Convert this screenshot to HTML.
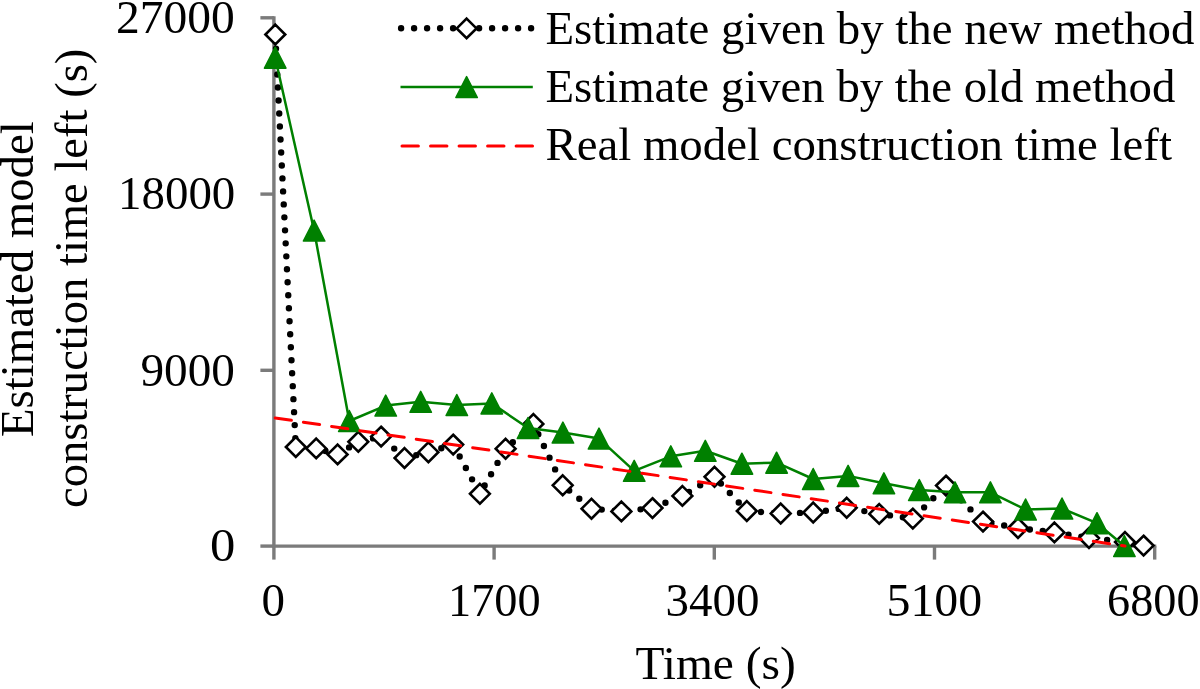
<!DOCTYPE html><html><head><meta charset="utf-8"><style>html,body{margin:0;padding:0;background:#fff;overflow:hidden}svg{display:block;will-change:transform}</style></head><body>
<svg width="1200" height="689" viewBox="0 0 1200 689">
<g stroke="#7b7b7b" stroke-width="3.4" fill="none">
<path d="M273.9,16.3V547.7M272.3,546.1H1156.3"/>
<path d="M260.4,17.8H273.9"/>
<path d="M260.4,194.1H273.9"/>
<path d="M260.4,370.3H273.9"/>
<path d="M260.4,546.1H273.9"/>
<path d="M273.9,546.1V559.6"/>
<path d="M494.1,546.1V559.6"/>
<path d="M714.3,546.1V559.6"/>
<path d="M934.5,546.1V559.6"/>
<path d="M1154.7,546.1V559.6"/>
</g>
<polyline points="275.3,34.5 295.8,447.0 316.2,448.4 337.6,454.4 358.3,441.8 381.1,436.6 404.5,458.0 428.4,452.2 453.2,444.6 479.9,493.8 505.6,448.7 533.4,423.9 562.7,485.3 591.5,508.7 621.4,511.4 652.5,508.1 682.4,495.9 714.5,476.8 746.8,511.0 780.7,513.5 813.2,512.5 846.7,507.8 879.2,513.9 912.8,518.6 946.0,485.6 983.0,521.6 1018.0,528.0 1054.4,532.4 1089.0,538.0 1125.0,542.0 1143.6,545.6" fill="none" stroke="#000" stroke-width="6.4" stroke-linecap="round" stroke-linejoin="round" stroke-dasharray="0 13" stroke-dashoffset="-1.1"/>
<path d="M275.30,24.65L285.20,34.50L275.30,44.35L265.40,34.50ZM295.80,437.15L305.70,447.00L295.80,456.85L285.90,447.00ZM316.20,438.55L326.10,448.40L316.20,458.25L306.30,448.40ZM337.60,444.55L347.50,454.40L337.60,464.25L327.70,454.40ZM358.30,431.95L368.20,441.80L358.30,451.65L348.40,441.80ZM381.10,426.75L391.00,436.60L381.10,446.45L371.20,436.60ZM404.50,448.15L414.40,458.00L404.50,467.85L394.60,458.00ZM428.40,442.35L438.30,452.20L428.40,462.05L418.50,452.20ZM453.20,434.75L463.10,444.60L453.20,454.45L443.30,444.60ZM479.90,483.95L489.80,493.80L479.90,503.65L470.00,493.80ZM505.60,438.85L515.50,448.70L505.60,458.55L495.70,448.70ZM533.40,414.05L543.30,423.90L533.40,433.75L523.50,423.90ZM562.70,475.45L572.60,485.30L562.70,495.15L552.80,485.30ZM591.50,498.85L601.40,508.70L591.50,518.55L581.60,508.70ZM621.40,501.55L631.30,511.40L621.40,521.25L611.50,511.40ZM652.50,498.25L662.40,508.10L652.50,517.95L642.60,508.10ZM682.40,486.05L692.30,495.90L682.40,505.75L672.50,495.90ZM714.50,466.95L724.40,476.80L714.50,486.65L704.60,476.80ZM746.80,501.15L756.70,511.00L746.80,520.85L736.90,511.00ZM780.70,503.65L790.60,513.50L780.70,523.35L770.80,513.50ZM813.20,502.65L823.10,512.50L813.20,522.35L803.30,512.50ZM846.70,497.95L856.60,507.80L846.70,517.65L836.80,507.80ZM879.20,504.05L889.10,513.90L879.20,523.75L869.30,513.90ZM912.80,508.75L922.70,518.60L912.80,528.45L902.90,518.60ZM946.00,475.75L955.90,485.60L946.00,495.45L936.10,485.60ZM983.00,511.75L992.90,521.60L983.00,531.45L973.10,521.60ZM1018.00,518.15L1027.90,528.00L1018.00,537.85L1008.10,528.00ZM1054.40,522.55L1064.30,532.40L1054.40,542.25L1044.50,532.40ZM1089.00,528.15L1098.90,538.00L1089.00,547.85L1079.10,538.00ZM1125.00,532.15L1134.90,542.00L1125.00,551.85L1115.10,542.00ZM1143.60,535.75L1153.50,545.60L1143.60,555.45L1133.70,545.60Z" fill="#fff" stroke="#000" stroke-width="2.6" stroke-linejoin="miter"/>
<polyline points="275.2,57.7 314.1,230.6 349.3,421.0 385.7,405.6 420.7,401.8 456.8,405.0 491.8,403.4 528.0,428.0 562.9,432.6 599.0,438.6 634.2,470.8 670.8,456.3 705.3,450.8 741.9,463.7 776.6,462.7 813.2,479.0 848.1,475.9 883.9,483.3 919.3,490.1 955.0,492.3 990.4,492.3 1025.6,509.5 1062.0,508.5 1097.0,523.2 1124.4,546.0" fill="none" stroke="#008000" stroke-width="2.5" stroke-linejoin="round"/>
<path d="M275.20,47.20L285.95,68.20L264.45,68.20ZM314.10,220.10L324.85,241.10L303.35,241.10ZM349.30,410.50L360.05,431.50L338.55,431.50ZM385.70,395.10L396.45,416.10L374.95,416.10ZM420.70,391.30L431.45,412.30L409.95,412.30ZM456.80,394.50L467.55,415.50L446.05,415.50ZM491.80,392.90L502.55,413.90L481.05,413.90ZM528.00,417.50L538.75,438.50L517.25,438.50ZM562.90,422.10L573.65,443.10L552.15,443.10ZM599.00,428.10L609.75,449.10L588.25,449.10ZM634.20,460.30L644.95,481.30L623.45,481.30ZM670.80,445.80L681.55,466.80L660.05,466.80ZM705.30,440.30L716.05,461.30L694.55,461.30ZM741.90,453.20L752.65,474.20L731.15,474.20ZM776.60,452.20L787.35,473.20L765.85,473.20ZM813.20,468.50L823.95,489.50L802.45,489.50ZM848.10,465.40L858.85,486.40L837.35,486.40ZM883.90,472.80L894.65,493.80L873.15,493.80ZM919.30,479.60L930.05,500.60L908.55,500.60ZM955.00,481.80L965.75,502.80L944.25,502.80ZM990.40,481.80L1001.15,502.80L979.65,502.80ZM1025.60,499.00L1036.35,520.00L1014.85,520.00ZM1062.00,498.00L1072.75,519.00L1051.25,519.00ZM1097.00,512.70L1107.75,533.70L1086.25,533.70ZM1124.40,535.50L1135.15,556.50L1113.65,556.50Z" fill="#008000" stroke="#008000" stroke-width="1.5" stroke-linejoin="round"/>
<line x1="273.9" y1="417.7" x2="1125" y2="546" stroke="#ff0000" stroke-width="3" stroke-linecap="round" stroke-dasharray="16.4 12.13" stroke-dashoffset="-1.3"/>
<path d="M401.1,28.3H532" fill="none" stroke="#000" stroke-width="6.4" stroke-linecap="round" stroke-dasharray="0 13"/>
<path d="M466.60,18.55L476.50,28.40L466.60,38.25L456.70,28.40Z" fill="#fff" stroke="#000" stroke-width="2.6"/>
<path d="M400.5,87.1H532.8" stroke="#008000" stroke-width="2.5"/>
<path d="M466.60,76.60L477.35,97.60L455.85,97.60Z" fill="#008000" stroke="#008000" stroke-width="1.5" stroke-linejoin="round"/>
<path d="M402,145.9H532.8" stroke="#ff0000" stroke-width="3" stroke-linecap="round" stroke-dasharray="16.4 12.13"/>
<text id="leg1" x="545.50" y="43.5" textLength="648.92" lengthAdjust="spacingAndGlyphs" font-family="Liberation Serif, serif" font-size="47" fill="#000">Estimate given by the new method</text>
<text id="leg2" x="545.50" y="101.6" textLength="629.87" lengthAdjust="spacingAndGlyphs" font-family="Liberation Serif, serif" font-size="47" fill="#000">Estimate given by the old method</text>
<text id="leg3" x="545.50" y="159.6" textLength="626.40" lengthAdjust="spacingAndGlyphs" font-family="Liberation Serif, serif" font-size="47" fill="#000">Real model construction time left</text>
<text id="y27000" x="116.00" y="32.7" textLength="118.84" lengthAdjust="spacingAndGlyphs" font-family="Liberation Serif, serif" font-size="47" fill="#000">27000</text>
<text id="y18000" x="118.00" y="209.1" textLength="117.30" lengthAdjust="spacingAndGlyphs" font-family="Liberation Serif, serif" font-size="47" fill="#000">18000</text>
<text id="y9000" x="140.50" y="385.8" textLength="94.43" lengthAdjust="spacingAndGlyphs" font-family="Liberation Serif, serif" font-size="47" fill="#000">9000</text>
<text id="y0" x="210.00" y="561.1" textLength="25.33" lengthAdjust="spacingAndGlyphs" font-family="Liberation Serif, serif" font-size="47" fill="#000">0</text>
<text id="x0" x="261.50" y="615.9" textLength="23.50" lengthAdjust="spacingAndGlyphs" font-family="Liberation Serif, serif" font-size="47" fill="#000">0</text>
<text id="x1700" x="448.00" y="615.9" textLength="92.61" lengthAdjust="spacingAndGlyphs" font-family="Liberation Serif, serif" font-size="47" fill="#000">1700</text>
<text id="x3400" x="665.50" y="615.9" textLength="94.01" lengthAdjust="spacingAndGlyphs" font-family="Liberation Serif, serif" font-size="47" fill="#000">3400</text>
<text id="x5100" x="886.50" y="615.9" textLength="95.69" lengthAdjust="spacingAndGlyphs" font-family="Liberation Serif, serif" font-size="47" fill="#000">5100</text>
<text id="x6800" x="1107.00" y="615.9" textLength="92.54" lengthAdjust="spacingAndGlyphs" font-family="Liberation Serif, serif" font-size="47" fill="#000">6800</text>
<text id="time" x="635.50" y="678.75" textLength="160.32" lengthAdjust="spacingAndGlyphs" font-family="Liberation Serif, serif" font-size="47" fill="#000">Time (s)</text>
<text id="yt1" transform="translate(32.7,437.00) rotate(-90)" textLength="315.67" lengthAdjust="spacingAndGlyphs" font-family="Liberation Serif, serif" font-size="47" fill="#000">Estimated model</text>
<text id="yt2" transform="translate(87.1,508.00) rotate(-90)" textLength="459.32" lengthAdjust="spacingAndGlyphs" font-family="Liberation Serif, serif" font-size="47" fill="#000">construction time left (s)</text>
</svg></body></html>
